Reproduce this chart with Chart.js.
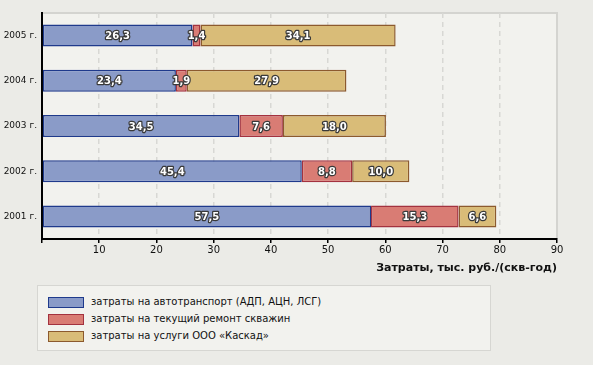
<!DOCTYPE html>
<html>
<head>
<meta charset="utf-8">
<script src="https://cdn.jsdelivr.net/npm/chart.js@4"></script>
<style>
  html, body { margin: 0; padding: 0; background: #ebebe7; }
  #wrap { position: relative; width: 593px; height: 365px; }
  #chart { position: absolute; left: 0; top: 0; }
  #legend {
    position: absolute; left: 37px; top: 285px; width: 452px; height: 64px;
    background: #f2f2ee; border: 1px solid #d6d6d2;
    font-family: 'DejaVu Sans', Verdana, sans-serif; font-size: 10px; color: #111;
  }
  .item { position: absolute; left: 10px; height: 12px; line-height: 12px; white-space: nowrap; }
  .sw { display: inline-block; width: 34px; height: 9px; vertical-align: middle; margin-right: 7px; border: 1px solid; }
</style>
</head>
<body>
<div id="wrap">
  <canvas id="chart" width="593" height="365"></canvas>
  <div id="legend"></div>
</div>
<script>
// Затраты по годам, тыс. руб./(скв-год)
const years = ['2005 г.', '2004 г.', '2003 г.', '2002 г.', '2001 г.'];
const transport = [26.3, 23.4, 34.5, 45.4, 57.5];
const repair = [1.4, 1.9, 7.6, 8.8, 15.3];
const kaskad = [34.1, 27.9, 18.0, 10.0, 6.6];
const seriesNames = [
  'затраты на автотранспорт (АДП, АЦН, ЛСГ)',
  'затраты на текущий ремонт скважин',
  'затраты на услуги ООО «Каскад»'
];
const fills = ['#8a9bc8', '#d97c74', '#d9bc78'];
const borders = ['#1f3a8c', '#a3323f', '#8c5a2e'];

const FONT = "'DejaVu Sans', Verdana, sans-serif";

const plotBg = {
  id: 'plotBg',
  beforeDraw(chart) {
    const { ctx, chartArea: a } = chart;
    ctx.save();
    ctx.fillStyle = '#f2f2ee';
    ctx.fillRect(a.left, a.top, a.right - a.left, a.bottom - a.top);
    ctx.strokeStyle = '#d4d4d0';
    ctx.lineWidth = 2;
    ctx.beginPath();
    ctx.moveTo(a.left, a.top);
    ctx.lineTo(a.right, a.top);
    ctx.lineTo(a.right, a.bottom);
    ctx.stroke();
    ctx.restore();
  }
};

const valueLabels = {
  id: 'valueLabels',
  afterDatasetsDraw(chart) {
    const ctx = chart.ctx;
    ctx.save();
    ctx.font = 'bold 10px ' + FONT;
    ctx.textAlign = 'center';
    ctx.textBaseline = 'middle';
    ctx.lineJoin = 'round';
    chart.data.datasets.forEach((ds, i) => {
      chart.getDatasetMeta(i).data.forEach((bar, j) => {
        const p = bar.getCenterPoint();
        const txt = ds.data[j].toFixed(1).replace('.', ',');
        ctx.lineWidth = 2.5;
        ctx.strokeStyle = '#3a3a3a';
        ctx.strokeText(txt, p.x, p.y + 1);
        ctx.fillStyle = '#fff';
        ctx.fillText(txt, p.x, p.y + 1);
      });
    });
    ctx.restore();
  }
};

const chart = new Chart(document.getElementById('chart').getContext('2d'), {
  type: 'bar',
  data: {
    labels: years,
    datasets: [transport, repair, kaskad].map((d, i) => ({
      label: seriesNames[i],
      data: d,
      backgroundColor: fills[i],
      borderColor: borders[i],
      borderWidth: 1.5,
      borderSkipped: false,
      categoryPercentage: 1,
      barPercentage: 0.487
    }))
  },
  options: {
    indexAxis: 'y',
    responsive: false,
    animation: false,
    layout: { padding: { left: 0, right: 36, top: 13, bottom: 90 } },
    plugins: {
      legend: { display: false },
      tooltip: { enabled: false }
    },
    scales: {
      x: {
        stacked: true,
        min: 0,
        max: 90,
        afterFit: (s) => { s.height = 36; },
        border: { color: '#000', width: 2, dash: [5, 4] },
        grid: {
          color: (c) => (c.tick && (c.tick.value === 0 || c.tick.value === 90) ? 'rgba(0,0,0,0)' : '#d8d8d4'),
          lineWidth: 1.5,
          tickColor: '#000',
          tickLength: 4,
          tickBorderDash: [],
          tickWidth: 1.5
        },
        ticks: {
          stepSize: 10,
          padding: 1,
          color: '#111',
          font: { family: FONT, size: 10 },
          callback: (v) => (v === 0 ? '' : v)
        },
        title: {
          display: true,
          text: 'Затраты, тыс. руб./(скв-год)',
          align: 'end',
          color: '#111',
          padding: { top: 0, bottom: 0 },
          font: { family: FONT, size: 11, weight: 'bold' }
        }
      },
      y: {
        stacked: true,
        afterFit: (s) => { s.width = 42; },
        border: { color: '#000', width: 2 },
        grid: { display: false, drawTicks: false },
        ticks: {
          padding: 5,
          color: '#111',
          font: { family: FONT, size: 9 }
        }
      }
    }
  },
  plugins: [plotBg, valueLabels]
});

// legend built from the chart's datasets
const legend = document.getElementById('legend');
chart.data.datasets.forEach((ds, i) => {
  const row = document.createElement('div');
  row.className = 'item';
  row.style.top = (10 + i * 17) + 'px';
  row.innerHTML = '<span class="sw" style="background:' + ds.backgroundColor +
    ';border-color:' + ds.borderColor + '"></span>' + ds.label;
  legend.appendChild(row);
});
</script>
</body>
</html>
